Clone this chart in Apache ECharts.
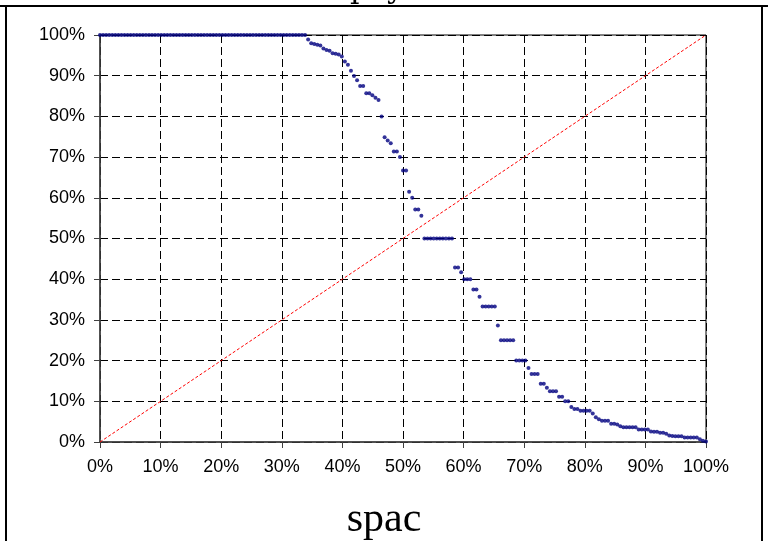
<!DOCTYPE html>
<html>
<head>
<meta charset="utf-8">
<script src="https://cdn.jsdelivr.net/npm/echarts@6/dist/echarts.min.js"></script>
<style>
  html, body { margin: 0; padding: 0; background: #fff; }
  #chart { width: 768px; height: 541px; }
</style>
</head>
<body>
<div id="chart"></div>
<script>
// Share values, sorted from highest to lowest; each point sits at its rank share on x.
const shareValues = [
  1, 1, 1, 1, 1, 1, 1, 1, 1, 1,
  1, 1, 1, 1, 1, 1, 1, 1, 1, 1,
  1, 1, 1, 1, 1, 1, 1, 1, 1, 1,
  1, 1, 1, 1, 1, 1, 1, 1, 1, 1,
  1, 1, 1, 1, 1, 1, 1, 1, 1, 1,
  1, 1, 1, 1, 1, 1, 1, 1, 1, 1,
  1, 1, 1, 1, 1, 1, 1, 1,
  0.989, 0.980, 0.978, 0.976, 0.974, 0.967, 0.963, 0.961, 0.955, 0.954,
  0.952, 0.947, 0.935, 0.927, 0.912, 0.899, 0.889, 0.875, 0.875, 0.857,
  0.857, 0.852, 0.846, 0.840, 0.800, 0.749, 0.741, 0.734, 0.714, 0.714,
  0.700, 0.667, 0.667, 0.615, 0.600, 0.571, 0.571, 0.556,
  0.5, 0.5, 0.5, 0.5, 0.5, 0.5, 0.5, 0.5, 0.5, 0.5,
  0.429, 0.429, 0.417, 0.4, 0.4, 0.4, 0.375, 0.375, 0.357,
  0.333, 0.333, 0.333, 0.333, 0.333, 0.286,
  0.25, 0.25, 0.25, 0.25, 0.25,
  0.2, 0.2, 0.2, 0.2, 0.182, 0.167, 0.167, 0.167, 0.143, 0.143,
  0.133, 0.125, 0.125, 0.125, 0.111, 0.111, 0.1, 0.1, 0.086, 0.081,
  0.081, 0.077, 0.077, 0.077, 0.077, 0.070, 0.061, 0.056, 0.052, 0.052,
  0.052, 0.045, 0.045, 0.043, 0.039, 0.036, 0.036, 0.036, 0.036, 0.036,
  0.031, 0.031, 0.031, 0.031, 0.026, 0.025, 0.025, 0.023, 0.023, 0.020,
  0.016, 0.015, 0.014, 0.014, 0.014, 0.011, 0.011, 0.011, 0.011, 0.011,
  0.007, 0.003, 0.001
];

// Reference diagonal (equal share).
const diagonal = [[0, 0], [1, 1]];

// Axis ticks (both axes share the same percent scale).
const tickValues = [0, 0.1, 0.2, 0.3, 0.4, 0.5, 0.6, 0.7, 0.8, 0.9, 1];
const tickLabels = ['0%', '10%', '20%', '30%', '40%', '50%', '60%', '70%', '80%', '90%', '100%'];

const captionText = 'spac';

const rankPoints = shareValues.map((v, i) => [i / (shareValues.length - 1), v]);
const tickLabel = (v) => {
  const k = tickValues.findIndex(t => Math.abs(t - v) < 1e-9);
  return k >= 0 ? tickLabels[k] : '';
};

const labelFont = {
  color: '#000',
  fontFamily: 'Liberation Sans, Arial, sans-serif',
  fontSize: 18
};

const gridLine = { show: true, lineStyle: { color: '#000', width: 1, type: [8, 4] } };

const chart = echarts.init(document.getElementById('chart'), null, { renderer: 'canvas' });
chart.setOption({
  backgroundColor: '#fff',
  animation: false,
  grid: {
    left: 100, right: 62, top: 35, bottom: 99,
    show: true, borderColor: '#000', borderWidth: 1, backgroundColor: 'transparent'
  },
  xAxis: {
    type: 'value', min: 0, max: 1, interval: 0.1,
    axisLine: { show: true, lineStyle: { color: '#404040', width: 1.5 } },
    axisTick: { show: true, inside: false, length: 6, lineStyle: { color: '#404040' } },
    axisLabel: Object.assign({ margin: 16, formatter: tickLabel }, labelFont),
    splitLine: gridLine
  },
  yAxis: {
    type: 'value', min: 0, max: 1, interval: 0.1,
    axisLine: { show: true, lineStyle: { color: '#404040', width: 1.5 } },
    axisTick: { show: true, inside: false, length: 6, lineStyle: { color: '#404040' } },
    axisLabel: Object.assign({ margin: 15, formatter: tickLabel }, labelFont),
    splitLine: gridLine
  },
  series: [
    {
      type: 'line',
      data: diagonal,
      symbol: 'none',
      silent: true,
      lineStyle: { color: '#ff0000', width: 1, type: [3, 2] },
      z: 2
    },
    {
      type: 'scatter',
      data: rankPoints,
      symbol: 'circle',
      symbolSize: 4,
      itemStyle: { color: '#000080' },
      z: 3
    }
  ],
  graphic: [
    // Cell frame around the figure
    { type: 'line', shape: { x1: 0, y1: 6, x2: 768, y2: 6 }, style: { stroke: '#000', lineWidth: 2 } },
    { type: 'line', shape: { x1: 6, y1: 6, x2: 6, y2: 541 }, style: { stroke: '#000', lineWidth: 2 } },
    { type: 'line', shape: { x1: 762, y1: 6, x2: 762, y2: 541 }, style: { stroke: '#000', lineWidth: 2 } },
    // Tail of the heading in the cell above
    { type: 'text', left: 350, top: -25, style: { text: 'p', fill: '#000', font: '30px "DejaVu Serif", serif' } },
    { type: 'text', left: 387, top: -25, style: { text: 'y', fill: '#000', font: '30px "DejaVu Serif", serif' } },
    // Caption below the chart
    {
      type: 'text', left: 'center', top: 499,
      style: { text: captionText, fill: '#000', font: '42px "Liberation Serif", serif' }
    }
  ]
});
</script>
</body>
</html>
